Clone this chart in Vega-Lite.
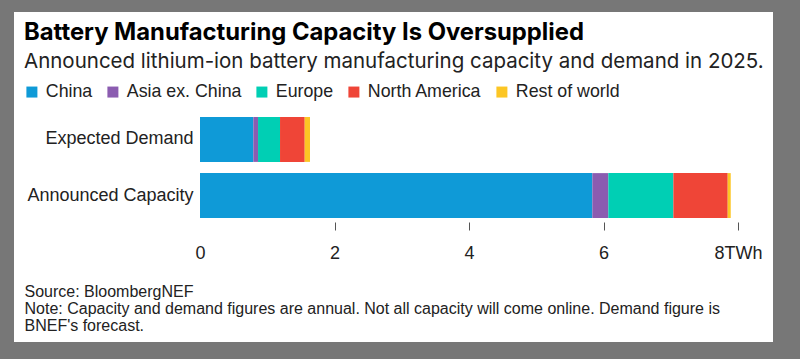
{
  "$schema": "https://vega.github.io/schema/vega-lite/v6.json",
  "width": 759,
  "height": 330,
  "autosize": {"type": "none"},
  "padding": {"left": 14, "top": 12, "right": 27, "bottom": 17},
  "background": "#777777",
  "view": {"fill": "white", "stroke": null},
  "config": {"font": "Liberation Sans"},
  "title": {
    "text": "Battery Manufacturing Capacity Is Oversupplied",
    "subtitle": "Announced lithium-ion battery manufacturing capacity and demand in 2025.",
    "orient": "top",
    "anchor": "start",
    "frame": "group",
    "dx": 10,
    "offset": -60,
    "font": "Inter",
    "fontSize": 23.8,
    "fontWeight": "bold",
    "color": "#000000",
    "subtitleFont": "Inter",
    "subtitleFontSize": 20.5,
    "subtitleColor": "#222222",
    "subtitlePadding": 7
  },
  "data": {
    "values": [
      {"measure": "Expected Demand", "region": "China", "stackOrder": 1, "twh": 0.793},
      {"measure": "Expected Demand", "region": "Asia ex. China", "stackOrder": 2, "twh": 0.07},
      {"measure": "Expected Demand", "region": "Europe", "stackOrder": 3, "twh": 0.327},
      {"measure": "Expected Demand", "region": "North America", "stackOrder": 4, "twh": 0.367},
      {"measure": "Expected Demand", "region": "Rest of world", "stackOrder": 5, "twh": 0.079},
      {"measure": "Announced Capacity", "region": "China", "stackOrder": 1, "twh": 5.834},
      {"measure": "Announced Capacity", "region": "Asia ex. China", "stackOrder": 2, "twh": 0.238},
      {"measure": "Announced Capacity", "region": "Europe", "stackOrder": 3, "twh": 0.967},
      {"measure": "Announced Capacity", "region": "North America", "stackOrder": 4, "twh": 0.808},
      {"measure": "Announced Capacity", "region": "Rest of world", "stackOrder": 5, "twh": 0.045}
    ]
  },
  "mark": {"type": "bar"},
  "encoding": {
    "y": {
      "field": "measure",
      "type": "nominal",
      "sort": ["Expected Demand", "Announced Capacity"],
      "scale": {"range": [105, 206], "paddingInner": 0.2, "paddingOuter": 0},
      "axis": {
        "orient": "left",
        "offset": -186,
        "domain": false,
        "ticks": false,
        "grid": false,
        "title": null,
        "labelPadding": 7,
        "labelFontSize": 18,
        "labelColor": "#222222"
      }
    },
    "x": {
      "field": "twh",
      "type": "quantitative",
      "stack": "zero",
      "scale": {"domain": [0, 8], "range": [186, 724], "nice": false},
      "axis": {
        "orient": "bottom",
        "offset": -120,
        "values": [0, 2, 4, 6, 8],
        "domain": false,
        "grid": false,
        "tickSize": 8,
        "tickColor": "#555555",
        "tickOpacity": {"condition": {"test": "datum.value === 0", "value": 0}, "value": 1},
        "labelPadding": 14,
        "labelFontSize": 18,
        "labelColor": "#222222",
        "labelFlush": false,
        "labelOverlap": false,
        "labelExpr": "datum.value === 8 ? '8TWh' : datum.label",
        "title": ["Source: BloombergNEF", "Note: Capacity and demand figures are annual. Not all capacity will come online. Demand figure is", "BNEF's forecast."],
        "titleX": 10,
        "titleY": 74,
        "titleAlign": "left",
        "titleAnchor": "start",
        "titleBaseline": "alphabetic",
        "titleFontSize": 16,
        "titleFontWeight": "normal",
        "titleColor": "#222222",
        "titleLineHeight": 17
      }
    },
    "order": {"field": "stackOrder", "type": "quantitative"},
    "color": {
      "field": "region",
      "type": "nominal",
      "sort": ["China", "Asia ex. China", "Europe", "North America", "Rest of world"],
      "scale": {
        "domain": ["China", "Asia ex. China", "Europe", "North America", "Rest of world"],
        "range": ["#0f9ad7", "#8b5cb0", "#00cfb4", "#ef4537", "#fcc624"]
      },
      "legend": {
        "orient": "none",
        "legendX": 9,
        "legendY": 71,
        "direction": "horizontal",
        "columns": 5,
        "title": null,
        "padding": 0,
        "symbolType": "square",
        "symbolSize": 121,
        "symbolStrokeWidth": 0,
        "symbolOpacity": 1,
        "labelFontSize": 17.8,
        "labelColor": "#222222",
        "labelOffset": 5,
        "columnPadding": 11
      }
    }
  }
}
